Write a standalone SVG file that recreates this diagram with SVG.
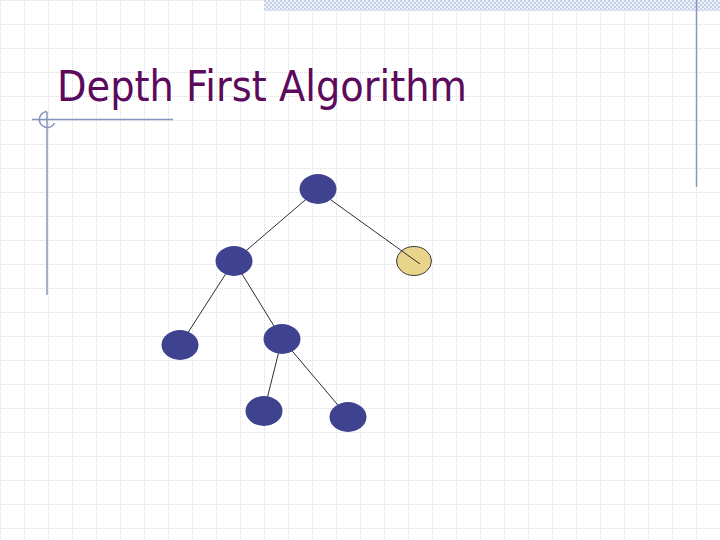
<svg xmlns="http://www.w3.org/2000/svg" width="720" height="540" viewBox="0 0 720 540">
  <defs>
    <pattern id="grid" x="0" y="0" width="24" height="24" patternUnits="userSpaceOnUse">
      <path d="M0.5 0V24M0 0.5H24" fill="none" stroke="#dcdce0" stroke-width="1" stroke-dasharray="1 1"/>
    </pattern>
    <pattern id="checker" x="0" y="0" width="4" height="4" patternUnits="userSpaceOnUse">
      <rect width="4" height="4" fill="#eef2f8"/>
      <rect width="2" height="2" fill="#c3d0e6"/>
      <rect x="2" y="2" width="2" height="2" fill="#c3d0e6"/>
    </pattern>
    <style>
      .frame { stroke: #8794bd; stroke-width: 1.5; fill: none; }
      .edge { stroke: #2b2b3a; stroke-width: 1; fill: none; }
      .node { fill: #3e428f; }
      .visit { fill: #e8d48a; stroke: #3a3a3a; stroke-width: 1; }
      .title { font-family: "DejaVu Sans", Tahoma, Verdana, sans-serif; font-size: 42px; fill: #5c0a5c; }
    </style>
  </defs>

  <rect width="720" height="540" fill="#ffffff"/>
  <rect width="720" height="540" fill="url(#grid)"/>

  <g id="decoration">
    <rect x="264" y="0" width="456" height="11" fill="url(#checker)"/>
    <line class="frame" x1="696.5" y1="0" x2="696.5" y2="187"/>
    <line class="frame" x1="32" y1="119.5" x2="173" y2="119.5"/>
    <line class="frame" x1="47" y1="112" x2="47" y2="295"/>
    <path class="frame" d="M47 111.5 A8 8 0 1 0 54.5 123"/>
  </g>

  <text class="title" x="57" y="101" textLength="410" lengthAdjust="spacingAndGlyphs">Depth First Algorithm</text>

  <g id="connectors">
    <line class="edge" x1="318" y1="189" x2="234" y2="261"/>
    <line class="edge" x1="234" y1="261" x2="180" y2="345"/>
    <line class="edge" x1="234" y1="261" x2="282" y2="339"/>
    <line class="edge" x1="282" y1="339" x2="264" y2="411"/>
    <line class="edge" x1="282" y1="339" x2="348" y2="417"/>
  </g>

  <g id="n1"><ellipse class="node" cx="318" cy="189" rx="18.5" ry="15"/></g>
  <g id="n2"><ellipse class="node" cx="234" cy="261" rx="18.5" ry="15"/></g>
  <g id="n3"><ellipse class="visit" cx="414" cy="261" rx="17.5" ry="14.5"/></g>
  <g id="n4"><ellipse class="node" cx="180" cy="345" rx="18.5" ry="15"/></g>
  <g id="n5"><ellipse class="node" cx="282" cy="339" rx="18.5" ry="15"/></g>
  <g id="n6"><ellipse class="node" cx="264" cy="411" rx="18.5" ry="15"/></g>
  <g id="n7"><ellipse class="node" cx="348" cy="417" rx="18.5" ry="15"/></g>

  <g id="connector-over">
    <line class="edge" x1="331" y1="200" x2="420" y2="264"/>
  </g>
</svg>
